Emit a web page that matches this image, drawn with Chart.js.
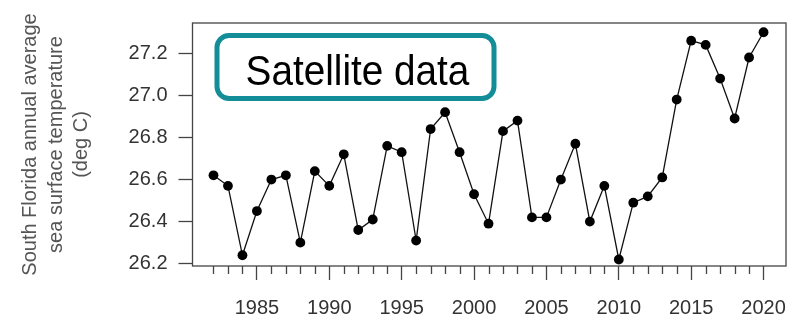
<!DOCTYPE html>
<html>
<head>
<meta charset="utf-8">
<script src="https://cdn.jsdelivr.net/npm/chart.js@4"></script>
<style>
  body { margin: 0; background: #fff; }
  #wrap { width: 792px; height: 317px; }
</style>
</head>
<body>
<div id="wrap"><canvas id="chart"></canvas></div>
<script>
const years = [1982, 1983, 1984, 1985, 1986, 1987, 1988, 1989, 1990, 1991,
    1992, 1993, 1994, 1995, 1996, 1997, 1998, 1999, 2000, 2001,
    2002, 2003, 2004, 2005, 2006, 2007, 2008, 2009, 2010, 2011,
    2012, 2013, 2014, 2015, 2016, 2017, 2018, 2019, 2020];
const sst = [26.62, 26.57, 26.24, 26.45, 26.60, 26.62, 26.30, 26.64, 26.57, 26.72,
    26.36, 26.41, 26.76, 26.73, 26.31, 26.84, 26.92, 26.73, 26.53, 26.39,
    26.83, 26.88, 26.42, 26.42, 26.60, 26.77, 26.40, 26.57, 26.22, 26.49,
    26.52, 26.61, 26.98, 27.26, 27.24, 27.08, 26.89, 27.18, 27.30];
const yTicks = [26.2, 26.4, 26.6, 26.8, 27.0, 27.2];
const xLabels = [1985, 1990, 1995, 2000, 2005, 2010, 2015, 2020];
const yTitle = ["South Florida annual average", "sea surface temperature", "(deg C)"];
const boxLabel = "Satellite data";

const font = "'Liberation Sans', Arial, sans-serif";

// box round the plot, minor year ticks and the label box
const extras = {
    id: "extras",
    afterDraw(chart) {
        const ctx = chart.ctx;
        const area = chart.chartArea;
        const xs = chart.scales.x;
        ctx.save();
        ctx.strokeStyle = "#444";
        ctx.lineWidth = 1.3;
        ctx.strokeRect(area.left, area.top, area.right - area.left, area.bottom - area.top);

        ctx.beginPath();
        years.forEach((yr) => {
            if (xLabels.includes(yr)) return;
            let px = Math.round(xs.getPixelForValue(yr)) + 0.5;
            ctx.moveTo(px, area.bottom);
            ctx.lineTo(px, area.bottom + 8);
        });
        ctx.stroke();

        ctx.strokeStyle = "#138d98";
        ctx.lineWidth = 5;
        ctx.beginPath();
        ctx.roundRect(area.left + 24.5, area.top + 12.5, 277, 63, 12);
        ctx.stroke();

        ctx.fillStyle = "#000";
        ctx.font = "43px " + font;
        ctx.textAlign = "center";
        ctx.textBaseline = "alphabetic";
        ctx.translate(area.left + 165, area.top + 62);
        ctx.scale(0.9, 1);
        ctx.fillText(boxLabel, 0, 0);
        ctx.restore();
    },
};

new Chart(document.getElementById("chart"), {
    type: "line",
    data: {
        datasets: [
            {
                data: years.map((yr, i) => ({ x: yr, y: sst[i] })),
                borderColor: "#111",
                borderWidth: 1.3,
                pointRadius: 4.9,
                pointBackgroundColor: "#000",
                pointBorderWidth: 0,
                tension: 0,
            },
        ],
    },
    options: {
        responsive: true,
        maintainAspectRatio: false,
        animation: false,
        layout: {
            padding: { top: 23, right: 6, left: 0, bottom: 0 },
        },
        plugins: {
            legend: { display: false },
            tooltip: { enabled: false },
        },
        scales: {
            x: {
                type: "linear",
                min: 1980.55,
                max: 2021.55,
                afterBuildTicks: (s) => {
                    s.ticks = xLabels.map((v) => ({ value: v }));
                },
                afterFit: (s) => {
                    s.height = 51;
                    s.paddingLeft = 0;
                    s.paddingRight = 0;
                },
                ticks: {
                    font: { family: font, size: 20 },
                    color: "#333",
                    padding: 16,
                    maxRotation: 0,
                    autoSkip: false,
                    callback: (v) => String(v),
                },
                grid: {
                    drawOnChartArea: false,
                    tickLength: 14,
                    tickColor: "#444",
                    tickWidth: 1.3,
                },
                border: { display: false },
            },
            y: {
                min: 26.189,
                max: 27.344,
                afterBuildTicks: (s) => {
                    s.ticks = yTicks.map((v) => ({ value: v }));
                },
                afterFit: (s) => {
                    s.width = 192.5;
                    s.paddingTop = 0;
                    s.paddingBottom = 0;
                },
                ticks: {
                    font: { family: font, size: 20 },
                    color: "#333",
                    padding: 11,
                    callback: (v) => v.toFixed(1),
                },
                grid: {
                    drawOnChartArea: false,
                    tickLength: 14,
                    tickColor: "#444",
                    tickWidth: 1.3,
                },
                border: { display: false },
                title: {
                    display: true,
                    text: yTitle,
                    color: "#555",
                    font: { family: font, size: 20, lineHeight: 1.27 },
                    padding: { top: 18, bottom: 0 },
                },
            },
        },
    },
    plugins: [extras],
});
</script>
</body>
</html>
